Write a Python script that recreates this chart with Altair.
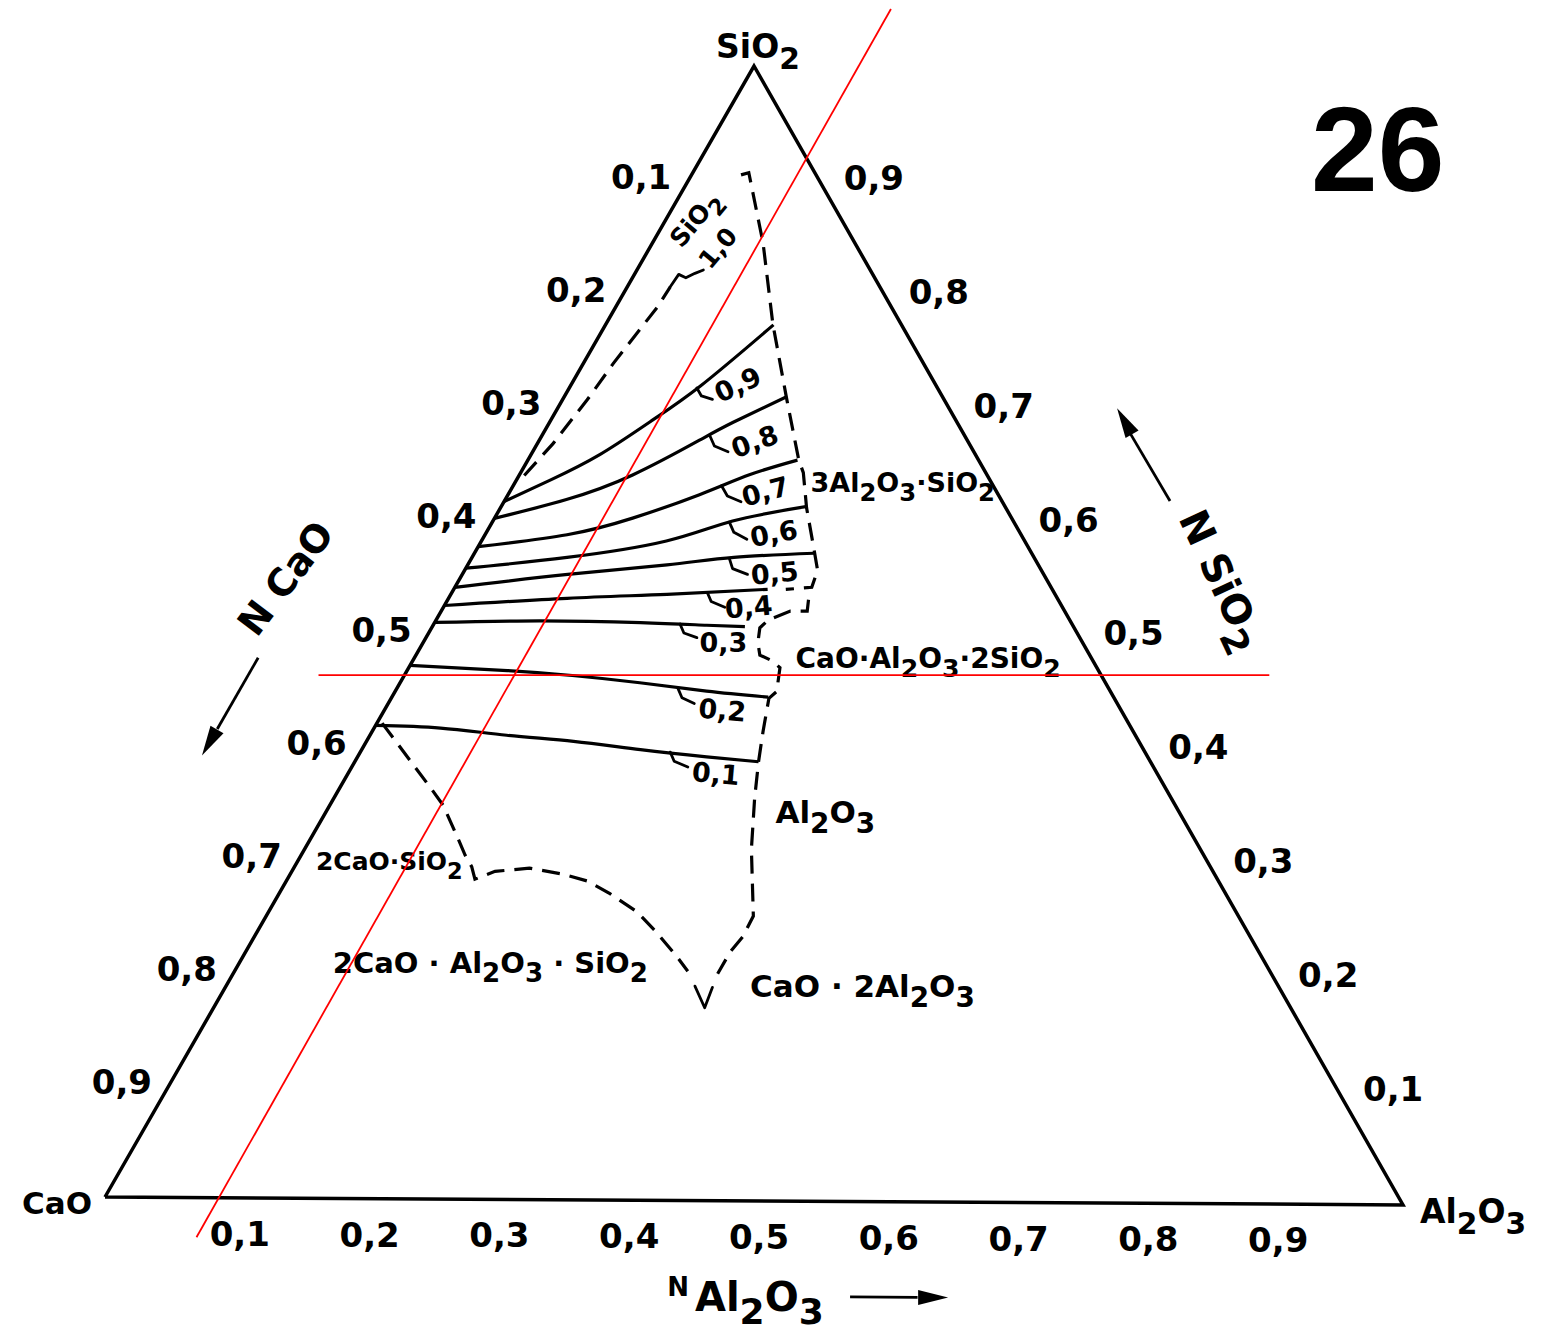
import math
import altair as alt
import pandas as pd

# ---------------- values (ternary: N Al2O3, N SiO2 ; N CaO = 1 - both) ----------------
tick_values = [0.1, 0.2, 0.3, 0.4, 0.5, 0.6, 0.7, 0.8, 0.9]
tick_labels = ["0,1", "0,2", "0,3", "0,4", "0,5", "0,6", "0,7", "0,8", "0,9"]

# iso-lines (solid)
c09_al = [0.0, 0.026, 0.053, 0.077, 0.100, 0.129]
c09_si = [0.615, 0.634, 0.657, 0.686, 0.718, 0.772]
c08_al = [0.0, 0.047, 0.087, 0.123, 0.141, 0.171]
c08_si = [0.600, 0.617, 0.639, 0.670, 0.686, 0.709]
c07_al = [0.0, 0.063, 0.106, 0.147, 0.177, 0.207]
c07_si = [0.575, 0.586, 0.601, 0.622, 0.640, 0.653]
c06_al = [0.0, 0.073, 0.142, 0.184, 0.234]
c06_si = [0.556, 0.566, 0.581, 0.599, 0.612]
c05_al = [0.0, 0.081, 0.153, 0.201, 0.261]
c05_si = [0.539, 0.551, 0.560, 0.567, 0.571]
c04_al = [0.0, 0.091, 0.166, 0.241]
c04_si = [0.523, 0.530, 0.534, 0.539]
c03_al = [0.0, 0.080, 0.158, 0.210, 0.240]
c03_si = [0.508, 0.510, 0.509, 0.507, 0.506]
c02_al = [0.0, 0.077, 0.129, 0.184, 0.239, 0.289]
c02_si = [0.470, 0.466, 0.462, 0.456, 0.449, 0.444]
c01_al = [0.0, 0.051, 0.105, 0.159, 0.214, 0.268, 0.310]
c01_si = [0.417, 0.415, 0.409, 0.404, 0.397, 0.391, 0.387]

iso_names = ["0,9", "0,8", "0,7", "0,6", "0,5", "0,4", "0,3", "0,2", "0,1"]
iso_lab_al = [0.129, 0.167, 0.197, 0.222, 0.240, 0.235, 0.231, 0.260, 0.283]
iso_lab_si = [0.718, 0.668, 0.624, 0.587, 0.552, 0.522, 0.491, 0.431, 0.375]
iso_lab_ang = [335, 340, 345, 350, 355, 355, 0, 5, 5]

# little hooks joining labels to iso-lines
hk09_al, hk09_si = [0.098, 0.105, 0.115], [0.716, 0.709, 0.706]
hk08_al, hk08_si = [0.129, 0.137, 0.150], [0.674, 0.665, 0.660]
hk07_al, hk07_si = [0.160, 0.169, 0.182], [0.630, 0.621, 0.616]
hk06_al, hk06_si = [0.182, 0.190, 0.203], [0.598, 0.589, 0.583]
hk05_al, hk05_si = [0.198, 0.205, 0.219], [0.566, 0.557, 0.552]
hk04_al, hk04_si = [0.196, 0.203, 0.216], [0.536, 0.528, 0.523]
hk03_al, hk03_si = [0.189, 0.196, 0.208], [0.508, 0.500, 0.496]
hk02_al, hk02_si = [0.216, 0.223, 0.235], [0.451, 0.443, 0.438]
hk01_al, hk01_si = [0.238, 0.245, 0.258], [0.395, 0.387, 0.382]
hksi_al, hksi_si = [0.033, 0.034, 0.041, 0.046, 0.051], [0.805, 0.816, 0.813, 0.817, 0.820]

# dashed field boundaries
sb_al = [0.004, 0.012, 0.019, 0.023, 0.032, 0.033]
sb_si = [0.638, 0.666, 0.705, 0.737, 0.787, 0.805]
rb1_al = [0.038, 0.043, 0.085, 0.128, 0.171, 0.208, 0.217, 0.235, 0.258, 0.271, 0.274, 0.255]
rb1_si = [0.904, 0.906, 0.844, 0.773, 0.708, 0.653, 0.642, 0.611, 0.576, 0.556, 0.541, 0.539]
rb2_al = [0.277, 0.281, 0.268, 0.255, 0.252, 0.257, 0.264, 0.276, 0.285, 0.293, 0.290,
          0.300, 0.310, 0.323, 0.343, 0.374, 0.375, 0.372, 0.372]
rb2_si = [0.530, 0.520, 0.520, 0.512, 0.505, 0.492, 0.481, 0.476, 0.470, 0.449, 0.443,
          0.414, 0.387, 0.355, 0.310, 0.251, 0.233, 0.219, 0.200]
arc_al = [0.004, 0.070, 0.087, 0.112, 0.126, 0.136, 0.144, 0.156, 0.181, 0.209, 0.231,
          0.254, 0.283, 0.307, 0.333, 0.348]
arc_si = [0.419, 0.362, 0.347, 0.319, 0.303, 0.293, 0.282, 0.289, 0.292, 0.287, 0.281,
          0.270, 0.254, 0.236, 0.215, 0.202]
vee_al, vee_si = [0.360, 0.377, 0.374], [0.189, 0.170, 0.188]

# field labels ("_" marks a subscript digit)
field_names = ["3Al_2O_3·SiO_2", "CaO·Al_2O_3·2SiO_2", "Al_2O_3", "2CaO·SiO_2",
               "2CaO · Al_2O_3 · SiO_2", "CaO · 2Al_2O_3"]
field_al = [0.231, 0.297, 0.350, 0.018, 0.076, 0.407]
field_si = [0.625, 0.470, 0.333, 0.289, 0.199, 0.180]
field_size = [27, 28, 31, 25, 29, 31]

# red reference lines
red_h_al, red_h_si = [-0.066, 0.664], [0.461, 0.466]
red_d_al, red_d_si = [0.088, 0.080], [-0.035, 1.051]

# ---------------- helpers ----------------
XD = [-0.08089, 1.11094]
YD = [-0.12644, 1.05836]
W, H = 1547, 1340
PX = W / (XD[1] - XD[0])
PY = H / (YD[1] - YD[0])


def tern(name, al, si, **extra):
    d = pd.DataFrame({"al": al, "si": si})
    d["curve"] = name
    d["i"] = range(len(d))
    for k, v in extra.items():
        d[k] = v
    d["X"] = d["al"] + 0.5 * d["si"]
    d["Y"] = d["si"] - 0.007 * d["al"]
    return d


X = alt.X("X:Q", scale=alt.Scale(domain=XD, nice=False, zero=False), axis=None)
Y = alt.Y("Y:Q", scale=alt.Scale(domain=YD, nice=False, zero=False), axis=None)
FONT = "DejaVu Sans"

ADV = {"0": .696, "1": .696, "2": .696, "3": .696, "4": .696, "5": .696, "6": .696,
       "7": .696, "8": .696, "9": .696, "A": .774, "l": .343, "O": .850, "S": .720,
       "i": .343, "C": .734, "a": .675, "N": .837, " ": .348, "·": .380, ",": .380}
SUB = 0.9


def rich(label, al, si, fs, dx=0.0, dy=0.0, ang=0.0, align="left", vcenter=False):
    runs = []
    k = 0
    while k < len(label):
        if label[k] == "_":
            ch, sub = label[k + 1], True
            k += 2
        else:
            ch, sub = label[k], False
            k += 1
        if runs and runs[-1][1] == sub:
            runs[-1][0] += ch
        else:
            runs.append([ch, sub])
    widths = [sum(ADV.get(c, .65) for c in t) * fs * (SUB if s else 1) for t, s in runs]
    total = sum(widths)
    u = {"left": 0.0, "center": -total / 2, "right": -total}[align]
    base_v = 0.36 * fs if vcenter else 0.0
    th = math.radians(ang)
    rows = []
    for (t, s), w in zip(runs, widths):
        f = fs * (SUB if s else 1)
        lead = (len(t) - len(t.lstrip(" "))) * ADV[" "] * f
        body = t.strip(" ")
        if body:
            uu = u + lead
            v = base_v + (0.33 * fs if s else 0.0)
            ox = dx + uu * math.cos(th) - v * math.sin(th)
            oy = dy + uu * math.sin(th) + v * math.cos(th)
            rows.append({"label": body, "fs": f, "ang": ang,
                         "X": al + 0.5 * si + ox / PX,
                         "Y": si - 0.007 * al - oy / PY})
        u += w
    return rows


def lines(df, **kw):
    return alt.Chart(df).mark_line(**kw).encode(x=X, y=Y, detail="curve:N", order="i:Q")


def texts(df, **kw):
    kw.setdefault("font", FONT)
    kw.setdefault("fontWeight", "bold")
    kw.setdefault("color", "black")
    enc = dict(x=X, y=Y, text="label:N")
    if "ang" in df.columns:
        enc["angle"] = alt.Angle("ang:Q", scale=None)
    return alt.Chart(df).mark_text(**kw).encode(**enc)


layers = []

# triangle
tri = tern("tri", [0.0, 1.0, 0.0, 0.0], [0.0, 0.0, 1.0, 0.0])
layers.append(lines(tri, color="black", strokeWidth=3.5, strokeJoin="miter"))

# iso-lines
iso = pd.concat([
    tern("c09", c09_al, c09_si), tern("c08", c08_al, c08_si), tern("c07", c07_al, c07_si),
    tern("c06", c06_al, c06_si), tern("c05", c05_al, c05_si), tern("c04", c04_al, c04_si),
    tern("c03", c03_al, c03_si), tern("c02", c02_al, c02_si), tern("c01", c01_al, c01_si),
])
layers.append(lines(iso, color="black", strokeWidth=3.2, interpolate="natural"))

# hooks and V
hooks = pd.concat([
    tern("h9", hk09_al, hk09_si), tern("h8", hk08_al, hk08_si), tern("h7", hk07_al, hk07_si),
    tern("h6", hk06_al, hk06_si), tern("h5", hk05_al, hk05_si), tern("h4", hk04_al, hk04_si),
    tern("h3", hk03_al, hk03_si), tern("h2", hk02_al, hk02_si), tern("h1", hk01_al, hk01_si),
    tern("hs", hksi_al, hksi_si), tern("vee", vee_al, vee_si),
])
layers.append(lines(hooks, color="black", strokeWidth=2.8, strokeJoin="round", strokeCap="round"))

# dashed boundaries
dashed = pd.concat([
    tern("sb", sb_al, sb_si), tern("rb1", rb1_al, rb1_si),
    tern("rb2", rb2_al, rb2_si), tern("arc", arc_al, arc_si),
])
layers.append(lines(dashed, color="black", strokeWidth=3.2, strokeDash=[18, 10]))

# arrows
arrows = pd.concat([
    tern("aC", [-0.120, -0.120], [0.476, 0.413]),
    tern("aS", [0.511, 0.450], [0.619, 0.679]),
    tern("aA", [0.616, 0.668], [-0.084, -0.084]),
])
layers.append(lines(arrows, color="black", strokeWidth=2.8))
heads = tern("heads", [-0.120, 0.441, 0.680], [0.401, 0.689, -0.084], ang=[210, 330, 90])
layers.append(
    alt.Chart(heads).mark_point(shape="M0,-1L0.5,1L-0.5,1Z", filled=True, color="black",
                                size=900, opacity=1, strokeWidth=0)
    .encode(x=X, y=Y, angle=alt.Angle("ang:Q", scale=None))
)

# tick labels
left = tern("lt", [0.0] * 9, [1 - v for v in tick_values], label=tick_labels)
right = tern("rt", [1 - v for v in tick_values], tick_values, label=tick_labels)
bottom = tern("bt", tick_values, [0.0] * 9, label=tick_labels)
layers.append(texts(left, fontSize=34, dx=-48, align="center", baseline="middle"))
layers.append(texts(right, fontSize=34, dx=55, align="center", baseline="middle"))
layers.append(texts(bottom, fontSize=34, dx=5, dy=38, align="center", baseline="middle"))

# plain labels
layers.append(texts(tern("v2", [0.0], [0.0], label=["CaO"]), fontSize=31, dx=-13, dy=8,
                    align="right", baseline="middle"))
isolab = tern("il", iso_lab_al, iso_lab_si, label=iso_names, ang=iso_lab_ang)
layers.append(texts(isolab, fontSize=27, align="center", baseline="middle"))
layers.append(texts(tern("one", [0.053], [0.839], label=["1,0"], ang=[310]), fontSize=25,
                    align="center", baseline="middle"))
layers.append(texts(tern("tC", [-0.132], [0.545], label=["N CaO"], ang=[307]), fontSize=38,
                    align="center", baseline="middle"))
layers.append(texts(tern("tN", [0.480], [-0.077], label=["N"]), fontSize=26, align="center",
                    baseline="middle"))
layers.append(texts(tern("num", [0.534], [0.893], label=["26"]), font="Liberation Sans",
                    fontSize=120, align="center", baseline="alphabetic"))

# formulas with real (dropped) subscripts
rows = []
rows += rich("SiO_2", 0.0, 1.0, 33, dx=4, dy=-8, align="center")
rows += rich("Al_2O_3", 1.0, 0.0, 33, dx=17, dy=18, align="left")
for nm, a, s, fs in zip(field_names, field_al, field_si, field_size):
    rows += rich(nm, a, s, fs, align="left")
rows += rich("SiO_2", 0.022, 0.865, 25, ang=310, align="center", vcenter=True)
rows += rich("N SiO_2", 0.586, 0.550, 40, ang=65, align="center", vcenter=True)
rows += rich("Al_2O_3", 0.503, -0.097, 40, align="left")
formulas = pd.DataFrame(rows)
layers.append(
    alt.Chart(formulas).mark_text(font=FONT, fontWeight="bold", color="black", align="left",
                                  baseline="alphabetic")
    .encode(x=X, y=Y, text="label:N", size=alt.Size("fs:Q", scale=None),
            angle=alt.Angle("ang:Q", scale=None))
)

# red reference lines
layers.append(lines(tern("rh", red_h_al, red_h_si), color="#ff0000", strokeWidth=1.8))
layers.append(lines(tern("rd", red_d_al, red_d_si), color="#ff0000", strokeWidth=1.8))

chart = (
    alt.layer(*layers)
    .properties(width=W, height=H, padding=0,
                autosize=alt.AutoSizeParams(type="none"), background="white")
    .configure_view(stroke=None)
)
chart.save("out.html", embed_options={"renderer": "svg", "actions": False})
